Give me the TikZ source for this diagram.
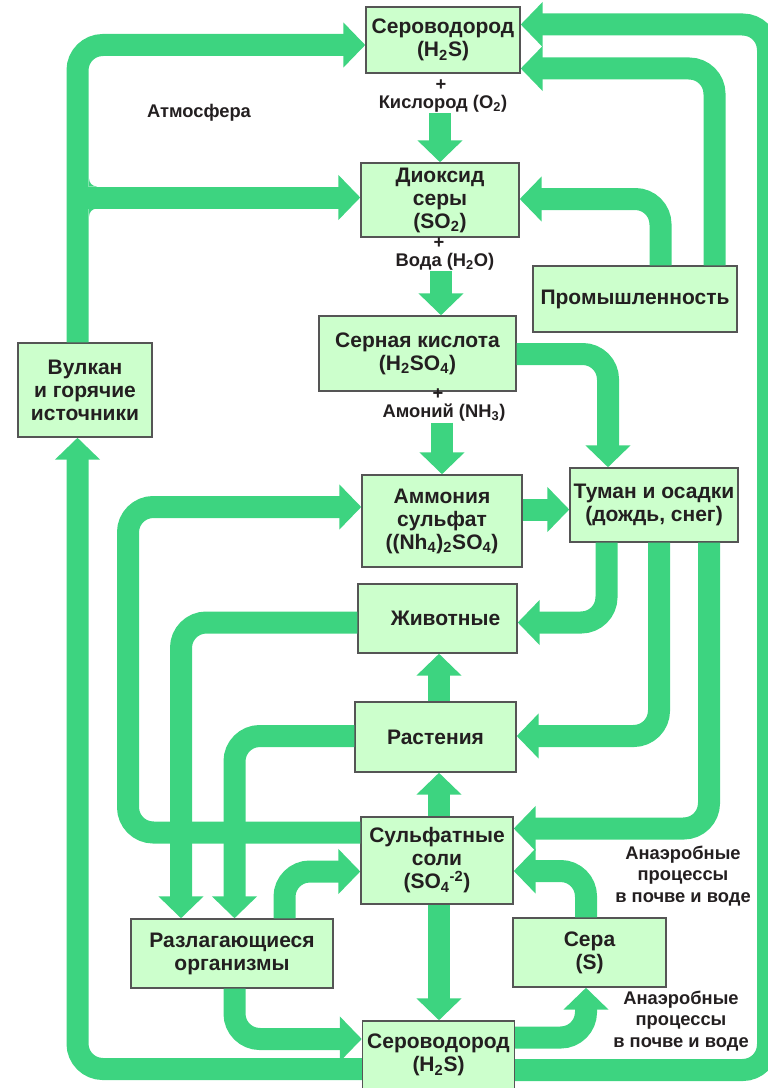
\documentclass[tikz,border=0pt]{standalone}
\usepackage{fontspec}
\setmainfont{Liberation Sans}
\usetikzlibrary{arrows.meta}
\definecolor{flowgreen}{RGB}{61,212,128}
\definecolor{boxfill}{RGB}{204,255,204}
\definecolor{boxline}{RGB}{85,85,85}
\definecolor{inkgray}{RGB}{35,31,32}
\begin{document}
\begin{tikzpicture}[x=0.75pt,y=0.75pt,yscale=-1,xscale=1,
  box/.style={draw=boxline,line width=1.1pt,fill=boxfill,inner sep=0pt,align=center,text=inkgray,
    font=\bfseries\fontsize{15.75}{17.25}\selectfont},
  lbl/.style={inner sep=0.5pt,align=center,text=inkgray,font=\bfseries\fontsize{13.75}{16}\selectfont},
  flow/.style={draw=flowgreen,line width=16.5pt,rounded corners=19pt,
    -{Triangle[width=33pt,length=16.5pt]}}]
\useasboundingbox (0,0) rectangle (767,1088);

%Shape: Rectangle [Сероводород вверху]
\node[box,minimum width=115.5pt,minimum height=49.5pt] (h2stop) at (443,40) {Сероводород\\(H\textsubscript{2}S)};
%Shape: Rectangle [Диоксид серы]
\node[box,minimum width=118.5pt,minimum height=55.5pt] (so2) at (440,200) {Диоксид\\серы\\(SO\textsubscript{2})};
%Shape: Rectangle [Серная кислота]
\node[box,minimum width=147.75pt,minimum height=56.25pt] (h2so4) at (417.5,353.5) {Серная кислота\\(H\textsubscript{2}SO\textsubscript{4})};
%Shape: Rectangle [Промышленность]
\node[box,minimum width=153pt,minimum height=49.5pt] (industry) at (635,299) {Промышленность};
%Shape: Rectangle [Вулкан]
\node[box,minimum width=100.5pt,minimum height=70.5pt] (volcano) at (85,390) {Вулкан\\и горячие\\источники};
%Shape: Rectangle [Аммония сульфат]
\node[box,minimum width=120pt,minimum height=69pt] (ammsulf) at (442,521) {Аммония\\сульфат\\((Nh\textsubscript{4})\textsubscript{2}SO\textsubscript{4})};
%Shape: Rectangle [Туман и осадки]
\node[box,minimum width=126pt,minimum height=55.5pt] (fog) at (654,505) {Туман и осадки\\(дождь, снег)};
%Shape: Rectangle [Животные]
\node[box,minimum width=119.25pt,minimum height=51.75pt] (animals) at (437.5,618.5) {\hspace{12pt}Животные};
%Shape: Rectangle [Растения]
\node[box,minimum width=120.75pt,minimum height=52.5pt] (plants) at (435.5,737) {Растения};
%Shape: Rectangle [Сульфатные соли]
\node[box,minimum width=114pt,minimum height=65.25pt] (salts) at (437,860.5) {Сульфатные\\соли\\(SO\textsubscript{4}\textsuperscript{-2})};
%Shape: Rectangle [Разлагающиеся организмы]
\node[box,minimum width=151.5pt,minimum height=51.75pt] (decay) at (232,953.5) {Разлагающиеся\\организмы};
%Shape: Rectangle [Сера]
\node[box,minimum width=114.75pt,minimum height=51.75pt] (sulfur) at (589.5,952.5) {Сера\\(S)};
%Shape: Rectangle [Сероводород внизу]
\node[box,minimum width=114pt,minimum height=51pt] (h2sbot) at (438.5,1055) {Сероводород\\(H\textsubscript{2}S)};

% Text Node
\node[lbl] (plusa) at (441,85) {+};
\node[lbl] (oxygen) at (443,104) {Кислород (O\textsubscript{2})};
% Text Node
\node[lbl] (plusb) at (439,243) {+};
\node[lbl] (water) at (445,262) {Вода (H\textsubscript{2}O)};
% Text Node
\node[lbl] (plusc) at (438,394) {+};
\node[lbl] (ammonia) at (444,413) {Амоний (NH\textsubscript{3})};
% Text Node
\node[lbl] (atmos) at (199,113) {Атмосфера};
% Text Node
\node[lbl] (anaeroba) at (683,876) {Анаэробные\\процессы\\в почве и воде};
\node[lbl] (anaerobb) at (681,1021) {Анаэробные\\процессы\\в почве и воде};

%Straight Lines [центральная колонна]
\draw[flow] (so2.north |- oxygen.south) -- (so2.north);
\draw[flow] (water.south -| 441,0) -- (h2so4.north -| 441,0);
\draw[flow] (ammsulf.north |- ammonia.south) -- (ammsulf.north);
\draw[flow] (plants.north -| 439,0) -- (animals.south -| 439,0);
\draw[flow] (salts.north -| 439,0) -- (plants.south -| 439,0);
\draw[flow] (salts.south -| 439,0) -- (h2sbot.north -| 439,0);
\draw[flow] (ammsulf.east |- 0,509.5) -- (fog.west |- 0,509.5);

%Curved Lines [вулкан]
\coordinate (fork) at (77.5,197.5);
\draw[flow] (volcano.north -| 77.5,0) -- (77.5,45) -- (h2stop.west |- 0,45);
\draw[flow] (fork) -- (so2.west |- fork);
\fill[flowgreen] (89,178.5) -- (89,186.5) -- (97,186.5) arc[start angle=90,end angle=180,radius=8] -- cycle;
\fill[flowgreen] (89,216.5) -- (89,208.5) -- (97,208.5) arc[start angle=270,end angle=180,radius=8] -- cycle;
\draw[flow] (h2sbot.west |- 0,1069) -- (77.5,1069) -- (volcano.south -| 77.5,0);

%Curved Lines [промышленность и внешний контур]
\draw[flow] (industry.north -| 714.5,0) -- (714.5,68.5) -- (h2stop.east |- 0,68.5);
\draw[flow] (industry.north -| 660.5,0) -- (660.5,199) -- (so2.east |- 0,199);
\draw[flow] (h2sbot.east |- 0,1070) -- (768,1070) -- (768,24.5) -- (h2stop.east |- 0,24.5);

%Curved Lines [осадки]
\draw[flow] (h2so4.east |- 0,354) -- (608,354) -- (fog.north -| 608,0);
\draw[flow] (fog.south -| 606.5,0) -- (606.5,622.5) -- (animals.east |- 0,622.5);
\draw[flow] (fog.south -| 659,0) -- (659,736) -- (plants.east |- 0,736);
\draw[flow] (fog.south -| 709,0) -- (709,828.5) -- (salts.east |- 0,828.5);

%Curved Lines [почва]
\draw[flow] (salts.west |- 0,832.5) -- (128,832.5) -- (128,507) -- (ammsulf.west |- 0,507);
\draw[flow] (animals.west |- 0,622.5) -- (181,622.5) -- (decay.north -| 181,0);
\draw[flow] (plants.west |- 0,736) -- (234.5,736) -- (decay.north -| 234.5,0);
\draw[flow] (decay.north -| 284.5,0) -- (284.5,871.5) -- (salts.west |- 0,871.5);
\draw[flow] (decay.south -| 234.5,0) -- (234.5,1039) -- (h2sbot.west |- 0,1039);
\draw[flow] (h2sbot.east |- 0,1037.5) -- (586,1037.5) -- (sulfur.south -| 586,0);
\draw[flow] (sulfur.north -| 586,0) -- (586,871) -- (salts.east |- 0,871);

\end{tikzpicture}
\end{document}
